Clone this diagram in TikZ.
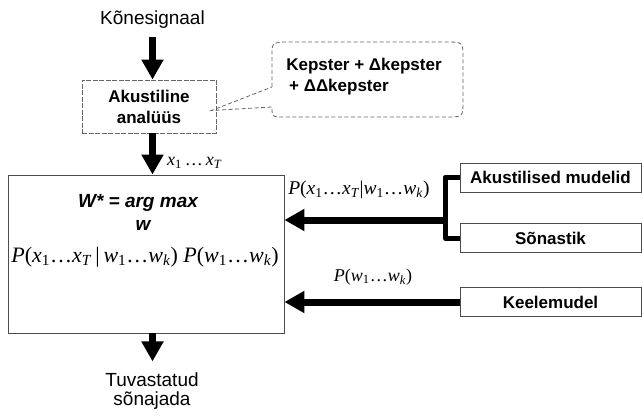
\documentclass[tikz,border=0pt]{standalone}
\usepackage{fontspec}
\setmainfont{Liberation Sans}
\newfontfamily\tms{Liberation Serif}
\usetikzlibrary{arrows.meta}
\newcommand\iv[1]{\textit{#1}}
\newcommand\sbs[1]{\textsubscript{#1}}
\begin{document}
\begin{tikzpicture}[x=1pt,y=-1pt,
  txt/.style={font=\fontsize{19}{19}\selectfont, inner sep=0pt, align=center},
  btxt/.style={font=\fontsize{17}{21}\selectfont\bfseries},
  frame/.style={draw=black!70, line width=0.9pt},
  dframe/.style={draw=black!60, line width=0.9pt, dash pattern=on 5pt off 1.5pt},
  bigarrow/.style={line width=7pt, -{Triangle[width=21pt,length=20pt]}},
  bracket/.style={line width=5pt, line join=round},
  callout/.style={draw=black!60, line width=0.8pt, dash pattern=on 4pt off 2.5pt},
  formula/.style={font=\tms\fontsize{22}{22}\selectfont, inner sep=0pt},
  lbl/.style={font=\tms\fontsize{18}{18}\selectfont, inner sep=0pt},
  model/.style={frame, btxt, minimum width=181pt, minimum height=29pt, inner sep=0pt}
]
\useasboundingbox (0,0) rectangle (642,417);

% input signal and acoustic analysis
\node[txt] (src) at (152.5,20) {Kõnesignaal};
\node[dframe, btxt, align=center, minimum width=134pt, minimum height=53pt, inner sep=0pt]
  (ana) at (149,106.5) {Akustiline\\analüüs};

% feature description callout
\node[btxt, align=left, inner sep=0pt] (feat) at (364,77) {Kepster + Δkepster\\\,+ ΔΔkepster};
\draw[callout] (272,87) -- (272,54) .. controls (272,43) .. (284,42) -- (446,42)
  .. controls (463,42) .. (463,58) -- (463,101) .. controls (463,117) .. (446,117)
  -- (284,117) .. controls (272,117) .. (272,107)
  -- ([shift={(-5pt,-4pt)}]ana.east) -- cycle;

% decoder
\node[frame, minimum width=276pt, minimum height=158pt, inner sep=0pt] (main) at (146,254) {};
\node[font=\fontsize{19}{19}\selectfont\bfseries\itshape, inner sep=0pt] (wstar) at (138,203) {W* = arg max};
\node[font=\fontsize{19}{19}\selectfont\bfseries\itshape, inner sep=0pt] (wsub) at (143,225) {w};
\node[formula] (eq) at (145,257) {\iv{P}(\iv{x}\sbs{1}\ldots\iv{x}\sbs{\iv{T}}\,|\,\iv{w}\sbs{1}\ldots\iv{w}\sbs{\iv{k}}) \iv{P}(\iv{w}\sbs{1}\ldots\iv{w}\sbs{\iv{k}})};

% knowledge sources
\node[model] (am) at (550.5,177.5) {Akustilised mudelid};
\node[model] (sn) at (550.5,238) {Sõnastik};
\node[model] (lm) at (550.5,302) {Keelemudel};

% output
\node[txt] (out) at (152,391) {Tuvastatud\\sõnajada};

% arrows
\draw[bigarrow] ([yshift=-8pt]src.south) -- (src.south |- ana.north);
\draw[bigarrow] (ana.south -| src.south) -- (src.south |- main.north);
\node[lbl, anchor=west] (xs) at (167,163) {\iv{x}\sbs{1}\,\ldots\,\iv{x}\sbs{\iv{T}}};
\draw[bigarrow] (main.south -| src.south) -- ([yshift=11pt]out.north -| src.south);

\coordinate (j) at (445,220);
\draw[bracket] (am.west) -- (am.west -| j) -- (sn.west -| j) -- (sn.west);
\draw[bigarrow] (j) -- (j -| main.east);
\node[lbl, font=\tms\fontsize{19.5}{19.5}\selectfont] (pac) at (359,190) {\iv{P}(\iv{x}\sbs{1}\ldots\iv{x}\sbs{\iv{T}}|\iv{w}\sbs{1}\ldots\iv{w}\sbs{\iv{k}})};

\draw[bigarrow] (lm.west) -- (lm.west -| main.east);
\node[lbl] (plm) at (373,277) {\iv{P}(\iv{w}\sbs{1}\ldots\iv{w}\sbs{\iv{k}})};
\end{tikzpicture}
\end{document}
